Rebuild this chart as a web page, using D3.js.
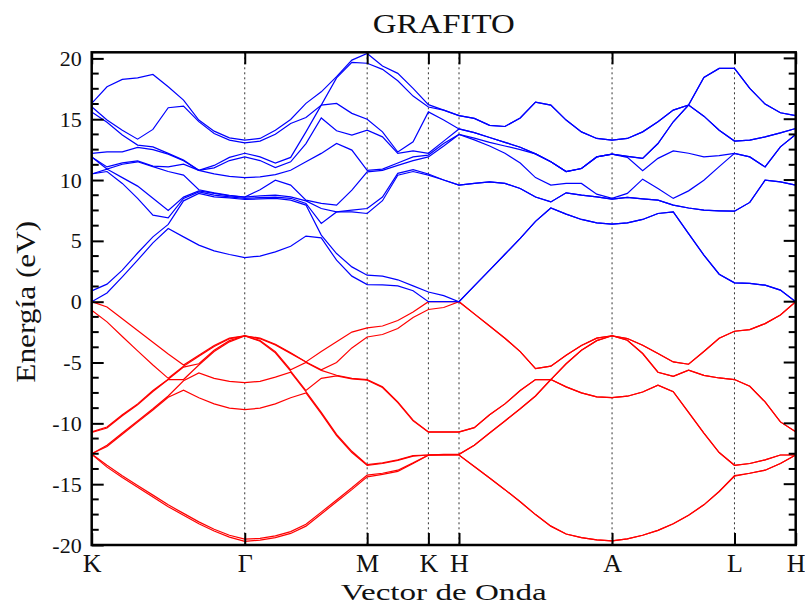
<!DOCTYPE html>
<html>
<head>
<meta charset="utf-8" />
<title>GRAFITO</title>
<script src="https://d3js.org/d3.v7.min.js"></script>
<style>
  body { margin: 0; background: #fff; }
  svg text { font-family: "Liberation Serif", "DejaVu Serif", serif; fill: #111; }
</style>
</head>
<body>
<div id="chart"></div>
<script>
// high-symmetry points along the path (k-point index)
var symLabels = ["K", "\u0393", "M", "K", "H", "A", "L", "H"];
var symIndex = [0, 10, 18, 22, 24, 34, 42, 46];
var yTicks = [-20, -15, -10, -5, 0, 5, 10, 15, 20];

// valence bands (eV), one value per k-point
// K-G (0-10) | G-M (11-18) | M-K (19-22) | K-H (23-24) | H-A (25-34) | A-L (35-42) | L-H (43-46)
var val1 = [-12.55,-13.6,-14.45,-15.25,-16.05,-16.85,-17.55,-18.25,-18.85,-19.35,-19.7,
  -19.6,-19.4,-19.05,-18.45,-17.45,-16.45,-15.45,-14.4, -14.2,-13.95,-13.3,-12.6, -12.58,-12.55,
  -13.55,-14.5,-15.45,-16.45,-17.5,-18.45,-19.1,-19.4,-19.58,-19.66,
  -19.5,-19.2,-18.8,-18.25,-17.55,-16.7,-15.6,-14.35, -14.1,-13.85,-13.3,-12.6];
var val2 = [-12.5,-13.45,-14.3,-15.1,-15.9,-16.7,-17.4,-18.1,-18.7,-19.2,-19.52,
  -19.45,-19.25,-18.9,-18.3,-17.3,-16.3,-15.3,-14.25, -14.1,-13.85,-13.25,-12.6, -12.55,-12.55,
  -13.55,-14.5,-15.45,-16.45,-17.5,-18.45,-19.1,-19.4,-19.58,-19.66,
  -19.5,-19.2,-18.8,-18.25,-17.55,-16.7,-15.6,-14.3, -14.1,-13.85,-13.3,-12.6];
var val3 = [-12.52,-11.9,-10.9,-9.9,-8.9,-7.85,-6.5,-5.2,-4.1,-3.3,-2.82,
  -3.25,-4.2,-5.8,-7.4,-9.2,-11.0,-12.4,-13.45, -13.3,-13.05,-12.7,-12.62, -12.6,-12.6,
  -11.8,-10.8,-9.8,-8.8,-7.75,-6.4,-5.1,-4.0,-3.2,-2.8,
  -3.17,-4.26,-5.8,-7.4,-9.1,-10.8,-12.4,-13.45, -13.3,-13.0,-12.6,-12.6];
var val4 = [-12.5,-11.8,-10.8,-9.8,-8.8,-7.75,-6.4,-5.1,-4.0,-3.2,-2.8,
  -3.2,-4.1,-5.7,-7.3,-9.1,-10.9,-12.3,-13.4, -13.25,-13.0,-12.65,-12.6, -12.6,-12.6,
  -11.8,-10.8,-9.8,-8.8,-7.75,-6.4,-5.1,-4.0,-3.2,-2.8,
  -3.17,-4.26,-5.8,-7.4,-9.1,-10.8,-12.4,-13.45, -13.3,-13.0,-12.6,-12.6];
var val5 = [-10.75,-10.38,-9.38,-8.48,-7.38,-6.38,-5.38,-4.48,-3.68,-3.05,-2.8,
  -3.05,-3.55,-4.25,-5.0,-5.65,-6.1,-6.35,-6.45, -7.05,-8.3,-9.8,-10.72, -10.72,-10.72,
  -10.35,-9.3,-8.4,-7.3,-6.4,-5.3,-4.4,-3.6,-3.0,-2.8,
  -3.03,-3.58,-4.26,-4.95,-5.63,-6.05,-6.27,-6.4, -6.95,-8.24,-9.88,-10.7];
var val6 = [-10.7,-10.3,-9.3,-8.4,-7.3,-6.3,-5.3,-4.4,-3.6,-3.0,-2.8,
  -3.0,-3.5,-4.2,-4.95,-5.6,-6.05,-6.3,-6.4, -7.0,-8.24,-9.74,-10.7, -10.7,-10.7,
  -10.35,-9.3,-8.4,-7.3,-6.4,-5.3,-4.4,-3.6,-3.0,-2.8,
  -3.03,-3.58,-4.26,-4.95,-5.63,-6.05,-6.27,-6.4, -6.95,-8.24,-9.88,-10.7];
var val7 = [-0.7,-1.66,-2.86,-4.04,-5.2,-6.4,-7.28,-7.9,-8.4,-8.75,-8.87,
  -8.75,-8.4,-7.9,-7.5,-6.3,-5.0,-3.8,-2.9, -2.7,-2.2,-1.3,-0.64, -0.48,0,
  -1.0,-2.0,-3.0,-4.1,-5.5,-6.4,-7.0,-7.5,-7.83,-7.88,
  -7.77,-7.42,-6.87,-6.13,-5.14,-4.1,-3.0,-2.43, -2.29,-1.8,-1.1,0];
var val8 = [0,-0.43,-1.4,-2.37,-3.33,-4.3,-5.2,-5.85,-6.3,-6.55,-6.65,
  -6.55,-6.2,-5.6,-4.95,-4.1,-3.3,-2.5,-2.15, -2.0,-1.55,-0.85,0, 0,0,
  -1.0,-2.0,-3.0,-4.1,-5.5,-6.4,-7.0,-7.5,-7.83,-7.88,
  -7.77,-7.42,-6.87,-6.13,-5.14,-4.1,-3.0,-2.43, -2.29,-1.8,-1.1,0];

// conduction bands (eV)
var con1 = [0,0.72,2.04,3.41,4.84,6.02,5.33,4.65,4.18,3.88,3.63,
  3.75,4.1,4.56,5.39,5.25,3.41,2.1,1.41, 1.38,1.3,0.9,0, 0,0,
  1.3,2.6,3.9,5.2,6.6,7.7,7.2,6.76,6.48,6.37,
  6.48,6.76,7.25,7.38,5.6,3.82,2.26,1.55, 1.5,1.36,0.95,0];
var con2 = [0.89,1.44,2.59,4.0,5.33,6.35,8.29,8.9,8.62,8.54,8.4,
  8.45,8.49,8.35,7.94,5.47,3.96,2.86,2.18, 2.1,1.8,1.3,0.8, 0.5,0,
  1.3,2.6,3.9,5.2,6.6,7.7,7.2,6.76,6.48,6.37,
  6.48,6.76,7.25,7.38,5.6,3.82,2.26,1.55, 1.5,1.36,0.95,0];
var con3 = [10.5,10.7,9.72,8.49,7.11,6.9,8.49,9.03,8.76,8.62,8.5,
  8.55,8.6,8.5,8.08,6.43,7.38,7.38,7.25, 8.3,10.4,10.7,10.4, 10.0,9.58,
  9.72,9.85,9.72,9.31,8.6,8.2,8.95,8.76,8.62,8.43,
  8.57,8.45,8.35,7.94,7.7,7.52,7.47,7.44, 8.16,9.99,9.85,9.58];
var con4 = [10.5,10.9,10.2,9.5,8.5,7.5,8.6,9.1,8.9,8.7,8.6,
  8.7,8.76,8.62,8.35,7.66,7.38,7.52,7.66, 8.6,10.55,10.85,10.5, 10.0,9.58,
  9.72,9.85,9.72,9.31,8.6,8.2,8.95,8.76,8.62,8.43,
  8.57,8.45,8.35,7.94,7.7,7.52,7.47,7.44, 8.16,9.99,9.85,9.58];
var con5 = [15.6,14.75,13.7,12.87,12.73,12.19,11.64,10.8,10.5,10.3,10.2,
  10.26,10.45,9.58,8.29,8.08,7.94,9.17,10.67, 10.8,11.2,11.6,11.9, 12.8,13.75,
  13.3,12.8,12.2,11.4,10.2,9.58,9.72,9.72,8.84,8.49,
  8.9,10.07,9.31,8.49,9.11,9.99,11.1,12.19, 11.9,11.08,12.73,13.75];
var con6 = [11.9,10.9,11.3,11.5,11.1,10.7,10.4,9.2,8.95,8.75,8.6,
  9.2,9.99,10.8,11.5,12.19,13.0,12.46,10.8, 10.9,11.4,11.9,12.05, 13.0,13.75,
  13.45,13.1,12.8,12.5,12.15,11.5,10.7,10.95,11.9,12.13,
  11.86,10.76,11.78,12.4,12.2,11.9,12.0,12.19, 11.9,11.08,12.73,13.75];
var con7 = [11.9,11.08,11.41,11.58,11.14,11.08,11.3,10.8,11.2,11.6,11.9,
  11.6,11.03,11.5,13.0,15.1,14.05,13.7,14.1, 13.55,12.19,13.14,15.6, 14.93,14.2,
  13.9,13.5,13.1,12.7,12.15,11.5,10.7,10.95,11.9,12.13,
  11.95,11.78,13.0,14.79,16.16,18.44,19.18,19.18, 17.53,16.24,15.53,15.3];
var con8 = [12.19,12.32,12.32,12.68,12.5,12.13,11.58,10.8,11.0,11.86,12.2,
  11.9,11.4,11.86,13.96,16.16,16.3,15.48,15.0, 13.96,12.3,12.4,12.2, 13.2,14.2,
  13.9,13.5,13.1,12.7,12.15,11.5,10.7,10.95,11.9,12.13,
  11.95,11.78,13.0,14.79,16.16,18.44,19.18,19.18, 17.53,16.24,15.53,15.3];
var con9 = [16.02,14.93,14.1,13.36,14.16,15.94,16.08,14.8,13.83,13.28,13.06,
  13.2,13.77,14.65,15.14,16.16,18.4,19.67,19.6, 19.1,18.16,16.9,16.0, 15.75,15.3,
  15.07,14.5,14.4,15.1,16.4,16.16,14.93,13.96,13.42,13.28,
  13.42,13.96,14.79,15.75,16.16,15.25,14.1,13.2, 13.28,13.55,13.88,14.24];
var con10 = [16.3,17.67,18.27,18.4,18.68,17.67,16.57,14.93,14.02,13.47,13.28,
  13.42,14.1,14.98,16.3,17.25,18.5,19.86,20.4, 19.37,18.77,17.53,16.2, 15.75,15.3,
  15.07,14.5,14.4,15.1,16.4,16.16,14.93,13.96,13.42,13.28,
  13.42,13.96,14.79,15.75,16.16,15.25,14.1,13.2, 13.28,13.55,13.88,14.24];

var valence = [val1, val2, val3, val4, val5, val6, val7, val8];
var conduction = [con1, con2, con3, con4, con5, con6, con7, con8, con9, con10];

// ---- layout
var W = 805, H = 605;
var margin = {top: 52.3, right: 9.3, bottom: 60, left: 91.7};
var pw = W - margin.left - margin.right,
    ph = H - margin.top - margin.bottom;

var x = d3.scaleLinear().domain([0, 46]).range([0, pw]);
var y = d3.scaleLinear().domain([-20, 20.5]).range([ph, 0]);

var svg = d3.select("#chart").append("svg")
    .attr("width", W)
    .attr("height", H);

var g = svg.append("g")
    .attr("transform", "translate(" + margin.left + "," + margin.top + ")");

g.append("clipPath").attr("id", "clip")
  .append("rect").attr("width", pw).attr("height", ph);

// eigenvalues are drawn band by band in order of energy at each k-point
function sortBands(bands) {
  var n = bands[0].length;
  var out = bands.map(function() { return []; });
  for (var k = 0; k < n; k++) {
    var col = bands.map(function(b) { return b[k]; }).sort(d3.ascending);
    col.forEach(function(v, j) { out[j].push(v); });
  }
  return out;
}

// dotted lines at the inner high-symmetry points
g.selectAll(".sym")
    .data(symIndex.slice(1, -1))
    .enter().append("line")
    .attr("class", "sym")
    .attr("x1", function(d) { return x(d); })
    .attr("x2", function(d) { return x(d); })
    .attr("y1", 0)
    .attr("y2", ph)
    .style("stroke", "#333")
    .style("stroke-width", 1)
    .style("stroke-dasharray", "2,3");

var line = d3.line()
    .x(function(d, i) { return x(i); })
    .y(function(d) { return y(d); });

var plot = g.append("g").attr("clip-path", "url(#clip)");

plot.selectAll(".vb")
    .data(sortBands(valence))
    .enter().append("path")
    .attr("class", "vb")
    .attr("d", line)
    .style("fill", "none")
    .style("stroke", "#ff0000")
    .style("stroke-width", 1.2);

plot.selectAll(".cb")
    .data(sortBands(conduction))
    .enter().append("path")
    .attr("class", "cb")
    .attr("d", line)
    .style("fill", "none")
    .style("stroke", "#0000ff")
    .style("stroke-width", 1.2);

// ---- axes (ticks inside the frame)
var yLeft = d3.axisLeft(y).tickValues(yTicks).tickSize(-12).tickPadding(10)
    .tickFormat(function(d) { return String(d); });
g.append("g").attr("class", "y axis").call(yLeft);

var minor = d3.range(-20, 20.5, 1.25).filter(function(v) { return v % 5 !== 0; });
[0, pw].forEach(function(xx, side) {
  g.selectAll(".minor" + side)
      .data(minor)
      .enter().append("line")
      .attr("x1", xx)
      .attr("x2", side ? xx - 7 : xx + 7)
      .attr("y1", function(d) { return y(d); })
      .attr("y2", function(d) { return y(d); })
      .style("stroke", "#000")
      .style("stroke-width", 2);
});
g.selectAll(".rmajor")
    .data(yTicks)
    .enter().append("line")
    .attr("x1", pw)
    .attr("x2", pw - 12)
    .attr("y1", function(d) { return y(d); })
    .attr("y2", function(d) { return y(d); })
    .style("stroke", "#000")
    .style("stroke-width", 2);

var xBottom = d3.axisBottom(x).tickValues(symIndex).tickSize(-12).tickPadding(4)
    .tickFormat(function(d, i) { return symLabels[i]; });
g.append("g").attr("class", "x axis")
    .attr("transform", "translate(0," + ph + ")")
    .call(xBottom);

var xTop = d3.axisTop(x).tickValues(symIndex).tickSize(-12).tickFormat("");
g.append("g").attr("class", "x axis top").call(xTop);

g.selectAll(".axis path").style("display", "none");
g.selectAll(".axis line").style("stroke", "#000").style("stroke-width", 2);
g.selectAll(".y.axis text").style("font-size", "22px")
    .style("font-family", "'Liberation Serif', serif").style("fill", "#111");
g.selectAll(".x.axis text").style("font-size", "26px")
    .style("font-family", "'Liberation Serif', serif").style("fill", "#111")
    .attr("y", 0).attr("dy", 0)
    .attr("transform", "translate(0,27)");

// frame
g.append("rect")
    .attr("width", pw)
    .attr("height", ph)
    .style("fill", "none")
    .style("stroke", "#000")
    .style("stroke-width", 2.5);

// titles
svg.append("text")
    .attr("x", margin.left + pw / 2)
    .attr("y", 33)
    .style("text-anchor", "middle")
    .style("font-size", "27px")
    .attr("textLength", 142)
    .attr("lengthAdjust", "spacingAndGlyphs")
    .text("GRAFITO");

svg.append("text")
    .attr("x", margin.left + pw / 2)
    .attr("y", 599.7)
    .style("text-anchor", "middle")
    .style("font-size", "24px")
    .attr("textLength", 206)
    .attr("lengthAdjust", "spacingAndGlyphs")
    .text("Vector de Onda");

svg.append("text")
    .attr("transform", "translate(35," + (margin.top + y(0)) + ") rotate(-90)")
    .style("text-anchor", "middle")
    .style("font-size", "28px")
    .attr("textLength", 162)
    .attr("lengthAdjust", "spacingAndGlyphs")
    .text("Energía (eV)");
</script>
</body>
</html>
